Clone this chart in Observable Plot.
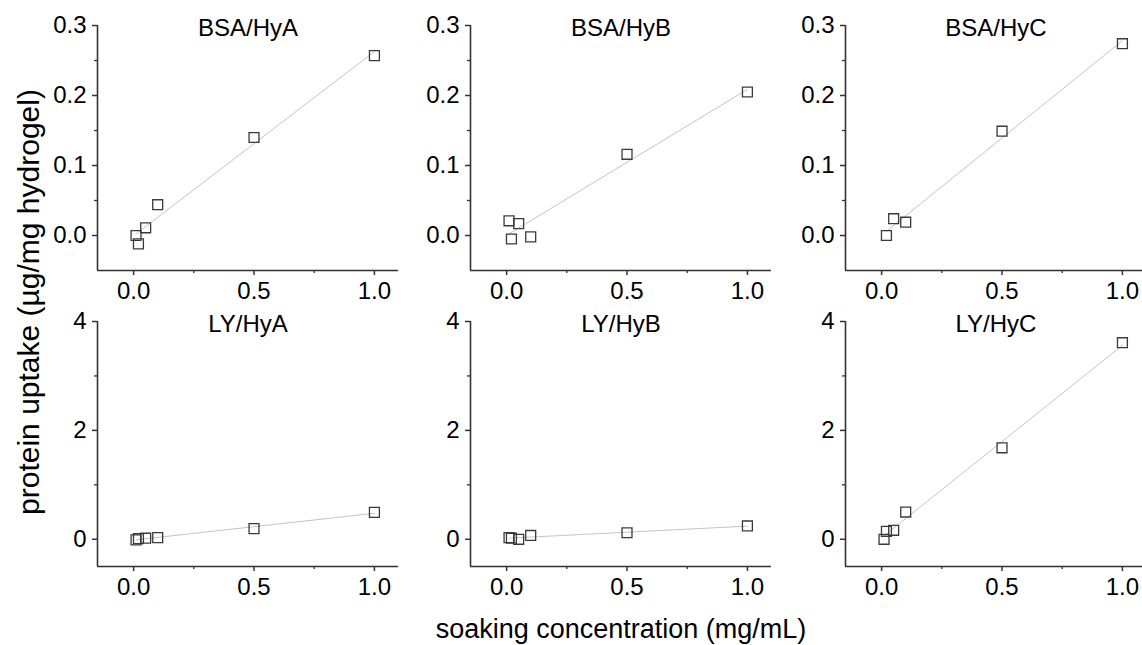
<!DOCTYPE html>
<html>
<head>
<meta charset="utf-8">
<script src="https://cdn.jsdelivr.net/npm/d3@7"></script>
<script src="https://cdn.jsdelivr.net/npm/@observablehq/plot@0.6"></script>
<style>
html, body { margin: 0; padding: 0; background: #fff; overflow: hidden; }
#chart { position: relative; width: 1142px; height: 645px; overflow: hidden; font-family: "Liberation Sans", Arial, sans-serif; color: #000; }
.panel { position: absolute; width: 385px; height: 305px; }
.panel svg { overflow: visible; max-width: none !important; }
.ytitle { position: absolute; left: 29px; top: 302px; transform: translate(-50%, -50%) rotate(-90deg); white-space: nowrap; font-size: 30px; line-height: 1; }
.xtitle { position: absolute; left: 621px; top: 616px; transform: translateX(-50%); white-space: nowrap; font-size: 27px; line-height: 1; }
</style>
</head>
<body>
<div id="chart"></div>
<script>
// ---- data ----
const panelTitles = ["BSA/HyA", "BSA/HyB", "BSA/HyC", "LY/HyA", "LY/HyB", "LY/HyC"];
const concentrations = [0.01, 0.02, 0.05, 0.1, 0.5, 1.0];
const concentrationsBsaHyC = [0.02, 0.05, 0.1, 0.5, 1.0];
const bsaHyA = [0.000, -0.012, 0.011, 0.044, 0.140, 0.257];
const bsaHyB = [0.021, -0.005, 0.017, -0.002, 0.116, 0.205];
const bsaHyC = [0.000, 0.024, 0.019, 0.149, 0.274];
const lyHyA = [-0.01, 0.01, 0.02, 0.03, 0.195, 0.495];
const lyHyB = [0.03, 0.02, 0.00, 0.07, 0.12, 0.245];
const lyHyC = [0.00, 0.147, 0.165, 0.50, 1.68, 3.61];

const xDomain = [-0.15, 1.1];
const xTicks = [0, 0.5, 1.0];
const xMinorTicks = [0.25, 0.75];
const bsaDomain = [-0.05, 0.3];
const bsaTicks = [0, 0.1, 0.2, 0.3];
const bsaMinorTicks = [0.05, 0.15, 0.25];
const lyDomain = [-0.5, 4];
const lyTicks = [0, 2, 4];
const lyMinorTicks = [1, 3];

const xAxisTitle = "soaking concentration (mg/mL)";
const yAxisTitle = "protein uptake (µg/mg hydrogel)";

// ---- drawing ----
const chart = document.getElementById("chart");
const axisColor = "#333";

function panel(title, xs, ys, yDomain, yTicks, yMinor, yFmt, left, top) {
  const data = xs.map((x, i) => ({x, y: ys[i]}));
  const svg = Plot.plot({
    width: 385,
    height: 305,
    marginLeft: 82,
    marginRight: 2,
    marginTop: 25,
    marginBottom: 35,
    style: {fontFamily: "'Liberation Sans', Arial, sans-serif", fontSize: "24px", color: "#000", background: "transparent", overflow: "visible", maxWidth: "none"},
    x: {domain: xDomain},
    y: {domain: yDomain},
    marks: [
      Plot.axisX(xTicks, {tickSize: 5, tickPadding: 6, tickFormat: d3.format(".1f"), label: null, stroke: axisColor, strokeWidth: 1.5, fill: "#000", fontSize: 24}),
      Plot.axisX(xMinorTicks, {tickSize: 3, tickFormat: () => "", label: null, stroke: axisColor, strokeWidth: 1.3}),
      Plot.axisY(yTicks, {tickSize: 5, tickPadding: 6, tickFormat: yFmt, label: null, stroke: axisColor, strokeWidth: 1.5, fill: "#000", fontSize: 24}),
      Plot.axisY(yMinor, {tickSize: 3, tickFormat: () => "", label: null, stroke: axisColor, strokeWidth: 1.3}),
      Plot.ruleY([yDomain[0]], {stroke: axisColor, strokeWidth: 1.6}),
      Plot.ruleX([xDomain[0]], {stroke: axisColor, strokeWidth: 1.6}),
      Plot.linearRegressionY(data, {x: "x", y: "y", ci: 0, stroke: "#c4c4c4", strokeWidth: 1}),
      Plot.dot(data, {x: "x", y: "y", symbol: "square", r: 5.6, stroke: "#3a3a3a", strokeWidth: 1.3, fill: "none"}),
      Plot.text([title], {frameAnchor: "top", lineAnchor: "middle", dy: 3, fontSize: 24, fill: "#000"})
    ]
  });
  const div = document.createElement("div");
  div.className = "panel";
  div.style.left = left + "px";
  div.style.top = top + "px";
  div.appendChild(svg);
  chart.appendChild(div);
}

const fmtBsa = d3.format(".1f");
const fmtLy = d3.format("d");
const lefts = [15, 388, 763];
const topRow = 0, bottomRow = 296;

panel(panelTitles[0], concentrations, bsaHyA, bsaDomain, bsaTicks, bsaMinorTicks, fmtBsa, lefts[0], topRow);
panel(panelTitles[1], concentrations, bsaHyB, bsaDomain, bsaTicks, bsaMinorTicks, fmtBsa, lefts[1], topRow);
panel(panelTitles[2], concentrationsBsaHyC, bsaHyC, bsaDomain, bsaTicks, bsaMinorTicks, fmtBsa, lefts[2], topRow);
panel(panelTitles[3], concentrations, lyHyA, lyDomain, lyTicks, lyMinorTicks, fmtLy, lefts[0], bottomRow);
panel(panelTitles[4], concentrations, lyHyB, lyDomain, lyTicks, lyMinorTicks, fmtLy, lefts[1], bottomRow);
panel(panelTitles[5], concentrations, lyHyC, lyDomain, lyTicks, lyMinorTicks, fmtLy, lefts[2], bottomRow);

const yt = document.createElement("div");
yt.className = "ytitle";
yt.textContent = yAxisTitle;
chart.appendChild(yt);
const xt = document.createElement("div");
xt.className = "xtitle";
xt.textContent = xAxisTitle;
chart.appendChild(xt);
</script>
</body>
</html>
